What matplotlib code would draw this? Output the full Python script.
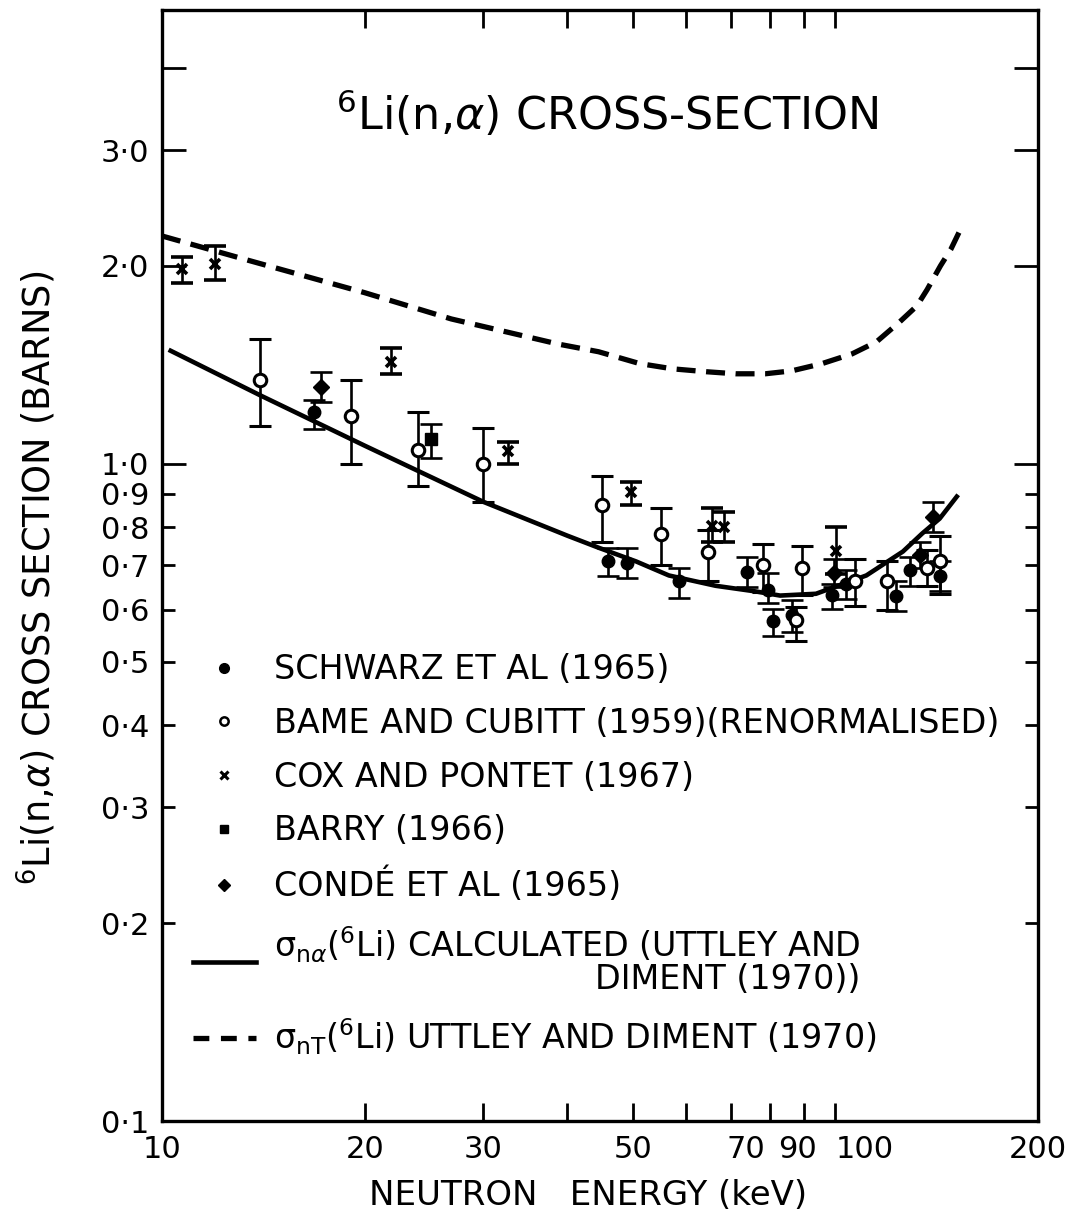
import numpy as np
import matplotlib
matplotlib.use("Agg")
import matplotlib.pyplot as plt
from matplotlib.lines import Line2D
from matplotlib.ticker import FixedLocator, NullFormatter
from matplotlib.transforms import ScaledTranslation

plt.rcParams['font.family'] = ['DejaVu Sans']
plt.rcParams['mathtext.fontset'] = 'dejavusans'

# ---------------- data ----------------
# Schwarz et al (1965) - filled circles
schwarz_E = [16.8, 45.9, 49.1, 58.5, 74.0, 79.4, 80.9, 86.1, 99.0, 103.9, 123.0, 128.9, 143.3]
schwarz_s = [1.20, 0.710, 0.707, 0.662, 0.685, 0.643, 0.577, 0.588, 0.632, 0.657, 0.630, 0.688, 0.674]
schwarz_lo = [1.13, 0.674, 0.669, 0.624, 0.650, 0.613, 0.546, 0.555, 0.602, 0.623, 0.596, 0.652, 0.640]
schwarz_hi = [1.25, 0.745, 0.745, 0.693, 0.720, 0.681, 0.602, 0.620, 0.657, 0.688, 0.664, 0.722, 0.710]

# Bame and Cubitt (1959) renormalised - open circles
bame_E = [14.0, 19.1, 24.0, 30.0, 45.0, 55.1, 64.7, 78.0, 87.5, 89.3, 107.0, 119.2, 136.8, 142.9]
bame_s = [1.34, 1.18, 1.05, 1.00, 0.866, 0.783, 0.735, 0.700, 0.578, 0.693, 0.662, 0.662, 0.693, 0.712]
bame_lo = [1.14, 1.00, 0.926, 0.875, 0.761, 0.700, 0.662, 0.639, 0.538, 0.632, 0.608, 0.598, 0.652, 0.634]
bame_hi = [1.55, 1.34, 1.20, 1.134, 0.959, 0.857, 0.794, 0.756, 0.606, 0.750, 0.715, 0.710, 0.740, 0.775]

# Cox and Pontet (1967) - crosses
cox_E = [10.7, 12.0, 21.9, 32.7, 49.7, 65.6, 68.4, 100.2]
cox_s = [1.98, 2.01, 1.43, 1.046, 0.907, 0.805, 0.800, 0.737]
cox_lo = [1.88, 1.90, 1.37, 1.00, 0.866, 0.760, 0.761, 0.680]
cox_hi = [2.06, 2.14, 1.50, 1.08, 0.939, 0.857, 0.845, 0.802]

# Barry (1966) - filled square
barry_E = [25.1]
barry_s = [1.09]
barry_lo = [1.02]
barry_hi = [1.15]

# Conde et al (1965) - filled diamonds
conde_E = [17.2, 99.5, 133.5, 139.9]
conde_s = [1.31, 0.681, 0.727, 0.831]
conde_lo = [1.24, 0.650, 0.693, 0.788]
conde_hi = [1.38, 0.715, 0.761, 0.875]

# sigma_n-alpha calculated (Uttley and Diment 1970) - solid curve
calc_E = [10.3, 14, 20, 30, 40, 44.5, 50.6, 56.6, 66.4, 76.3, 82.8, 93.6, 111.2, 126, 134.6, 142.9, 151.5]
calc_s = [1.485, 1.27, 1.065, 0.875, 0.777, 0.745, 0.71, 0.676, 0.652, 0.639, 0.63, 0.634, 0.676, 0.735, 0.783, 0.825, 0.891]

# sigma_nT (Uttley and Diment 1970) - dashed curve
tot_E = [10, 13.4, 20, 26.9, 38.8, 44.5, 51.2, 57.3, 64.3, 71.1, 78.7, 86.1, 95.4, 105.9, 115.1, 124.7, 132.2, 136.9, 143.3, 148.5, 154]
tot_s = [2.22, 2.04, 1.82, 1.66, 1.52, 1.48, 1.42, 1.394, 1.38, 1.37, 1.37, 1.384, 1.419, 1.469, 1.532, 1.644, 1.738, 1.84, 2.0, 2.12, 2.29]

x_major = [10, 20, 30, 50, 70, 90, 100, 200]
x_major_labels = ["10", "20", "30", "50", "70", "90", "100", "200"]
x_minor = [40, 60, 80]
y_major = [1, 2, 3, 4]
y_major_labels = ["1·0", "2·0", "3·0", ""]
y_minor = [0.1, 0.2, 0.3, 0.4, 0.5, 0.6, 0.7, 0.8, 0.9]
y_minor_labels = ["0·1", "0·2", "0·3", "0·4", "0·5", "0·6", "0·7", "0·8", "0·9"]

# ---------------- figure ----------------
fig = plt.figure(figsize=(10.81, 12.28), dpi=100)
ax = fig.add_axes([0.1499, 0.0871, 0.8103, 0.9048])
ax.set_xscale('log')
ax.set_yscale('log')
ax.set_xlim(10, 200)
ax.set_ylim(0.1, 4.9)

ax.plot(tot_E, tot_s, color='black', lw=3.8, dashes=(3.6, 2.0), solid_capstyle='butt', zorder=2)
ax.plot(calc_E, calc_s, color='black', lw=3.3, zorder=2)

ekw = dict(ecolor='black', elinewidth=1.9, capsize=8, capthick=1.9, ls='none', zorder=3)

def errs(s, lo, hi):
    s = np.asarray(s); lo = np.asarray(lo); hi = np.asarray(hi)
    return [s - lo, hi - s]

ax.errorbar(schwarz_E, schwarz_s, yerr=errs(schwarz_s, schwarz_lo, schwarz_hi),
            marker='o', ms=9, mfc='black', mec='black', **ekw)
ax.errorbar(bame_E, bame_s, yerr=errs(bame_s, bame_lo, bame_hi),
            marker='o', ms=9, mfc='white', mec='black', mew=2.2, **ekw)
ax.errorbar(cox_E, cox_s, yerr=errs(cox_s, cox_lo, cox_hi),
            marker='x', ms=7, mfc='black', mec='black', mew=2.6, **ekw)
ax.errorbar(barry_E, barry_s, yerr=errs(barry_s, barry_lo, barry_hi),
            marker='s', ms=8, mfc='black', mec='black', **ekw)
ax.errorbar(conde_E, conde_s, yerr=errs(conde_s, conde_lo, conde_hi),
            marker='D', ms=8, mfc='black', mec='black', **ekw)

# ---------------- axes styling ----------------
for sp in ax.spines.values():
    sp.set_linewidth(2.4)

ax.xaxis.set_major_locator(FixedLocator(x_major))
ax.xaxis.set_minor_locator(FixedLocator(x_minor))
ax.set_xticks(x_major, x_major_labels)
ax.xaxis.set_minor_formatter(NullFormatter())
ax.set_yticks(y_major, y_major_labels)
ax.set_yticks(y_minor, y_minor_labels, minor=True)

ax.tick_params(axis='x', which='both', direction='in', top=True, bottom=True,
               length=13, width=2.0, labelsize=22, pad=10)
ax.tick_params(axis='y', which='major', direction='in', left=True, right=True,
               length=17, width=2.0, labelsize=22, pad=9)
ax.tick_params(axis='y', which='minor', direction='in', left=True, right=True,
               length=9.5, width=2.0, labelsize=22, pad=9)

# nudge crowded x labels as in the original lettering
offsets = {"70": 11, "90": -5, "100": 21}
for lab in ax.get_xticklabels():
    t = lab.get_text()
    if t in offsets:
        lab.set_transform(lab.get_transform() +
                          ScaledTranslation(offsets[t] / 72, 0, fig.dpi_scale_trans))

ax.set_xlabel("NEUTRON   ENERGY (keV)", fontsize=24.5)
ax.xaxis.set_label_coords(0.486, -0.052)
ax.set_ylabel(r"$^{6}$Li(n,$\alpha$) CROSS SECTION (BARNS)", fontsize=26.5)
ax.yaxis.set_label_coords(-0.118, 0.489)

ax.text(0.508, 0.907, r"$^{6}$Li(n,$\alpha$) CROSS-SECTION", transform=ax.transAxes,
        ha='center', va='center', fontsize=32)

# ---------------- legend ----------------
handles = [
    Line2D([], [], ls='none', marker='o', ms=7, color='black'),
    Line2D([], [], ls='none', marker='o', ms=6, mfc='white', mec='black', mew=1.8),
    Line2D([], [], ls='none', marker='x', ms=6, color='black', mew=2.2),
    Line2D([], [], ls='none', marker='s', ms=6, color='black'),
    Line2D([], [], ls='none', marker='D', ms=6, color='black'),
    Line2D([], [], color='black', lw=3.3),
    Line2D([], [], color='black', lw=3.8, dashes=(3.0, 2.2)),
]
labels = [
    "SCHWARZ ET AL (1965)",
    "BAME AND CUBITT (1959)(RENORMALISED)",
    "COX AND PONTET (1967)",
    "BARRY (1966)",
    "CONDÉ ET AL (1965)",
    r"σ$_{\mathrm{n}\alpha}$($^{6}$Li) CALCULATED (UTTLEY AND" + "\n" + "DIMENT (1970))",
    r"σ$_{\mathrm{nT}}$($^{6}$Li) UTTLEY AND DIMENT (1970)",
]
leg = ax.legend(handles, labels, loc='upper left', bbox_to_anchor=(0.035, 0.421),
                frameon=False, fontsize=24, handlelength=1.9, handletextpad=0.55,
                borderaxespad=0, borderpad=0, labelspacing=0.62)
leg.get_texts()[5].set_multialignment('right')
leg.get_texts()[5].set_linespacing(0.95)

fig.savefig("out.png", dpi=100)
